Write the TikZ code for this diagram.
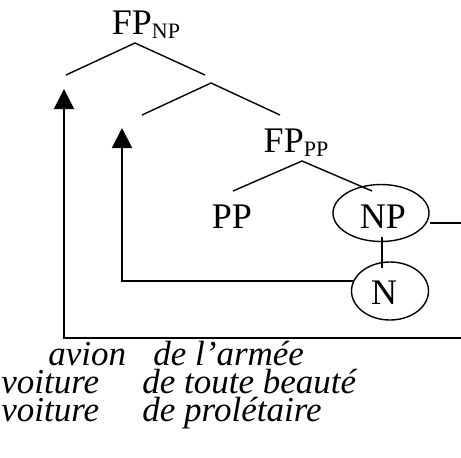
\documentclass[tikz,border=0pt]{standalone}
\usepackage{fontspec}
\setmainfont{Liberation Serif}
\usetikzlibrary{shapes.geometric,arrows.meta}

\newcommand{\lowidx}[1]{\raisebox{-2pt}{\fontsize{11}{11}\selectfont #1}}
\newcommand{\tightlines}{\lineskiplimit=-50pt\relax}

\begin{document}
\begin{tikzpicture}[x=0.5pt,y=-0.5pt,
    every node/.style={font=\fontsize{18}{18}\selectfont, inner sep=0pt},
    branch/.style={line width=0.7pt},
    movearrow/.style={line width=1pt,-{Triangle[width=10pt,length=10pt]}},
    bubble/.style={ellipse,draw,line width=0.7pt},
    examples/.style={anchor=base west,align=left,
      font=\fontsize{17.5}{14}\selectfont\itshape\tightlines}]
  \useasboundingbox (0,0) rectangle (461,457);

  % labels of the tree
  \node[anchor=base] (FPnp) at (146,34) {FP\lowidx{NP}};
  \node[anchor=base] (FPpp) at (296,152) {FP\lowidx{PP}};
  \node[anchor=base] (PP) at (232,228) {PP};
  \node[bubble,minimum width=48pt,minimum height=28.5pt] (NP) at (381,213) {};
  \node[anchor=base] at (383,228) {NP};
  \node[bubble,minimum width=38.5pt,minimum height=29pt] (N) at (390,291) {};
  \node[anchor=base] at (384,304) {N};

  % branch points
  \coordinate (top) at (135,43);  \coordinate (topL) at (66,75);   \coordinate (topR) at (205,75);
  \coordinate (mid) at (211,83);  \coordinate (midL) at (142,115); \coordinate (midR) at (280,115);
  \coordinate (low) at (302,161); \coordinate (lowL) at (233,191); \coordinate (lowR) at (372,191);

  \draw[branch] (topL) -- (top) -- (topR);
  \draw[branch] (midL) -- (mid) -- (midR);
  \draw[branch] (lowL) -- (low) -- (lowR);
  \draw[branch] (382,237) -- (382,268);
  \coordinate (npout) at (461,223);
  \draw[branch] (NP.east |- npout) -- (npout);

  % movements
  \coordinate (innertip) at (122,128);
  \coordinate (outertip) at (64,89);
  \coordinate (outerstart) at (461,338);
  \draw[movearrow] (N.165) -| (innertip);
  \draw[movearrow] (outerstart) -| (outertip);

  % examples (base = last line)
  \node[examples] (ex) at (1,421) {%
    \hspace*{23.5pt}\makebox[47pt][l]{avion}\hspace*{5.5pt}de l’armée\\
    \makebox[70.5pt][l]{voiture}de toute beauté\\
    \makebox[70.5pt][l]{voiture}de prolétaire};
\end{tikzpicture}
\end{document}
